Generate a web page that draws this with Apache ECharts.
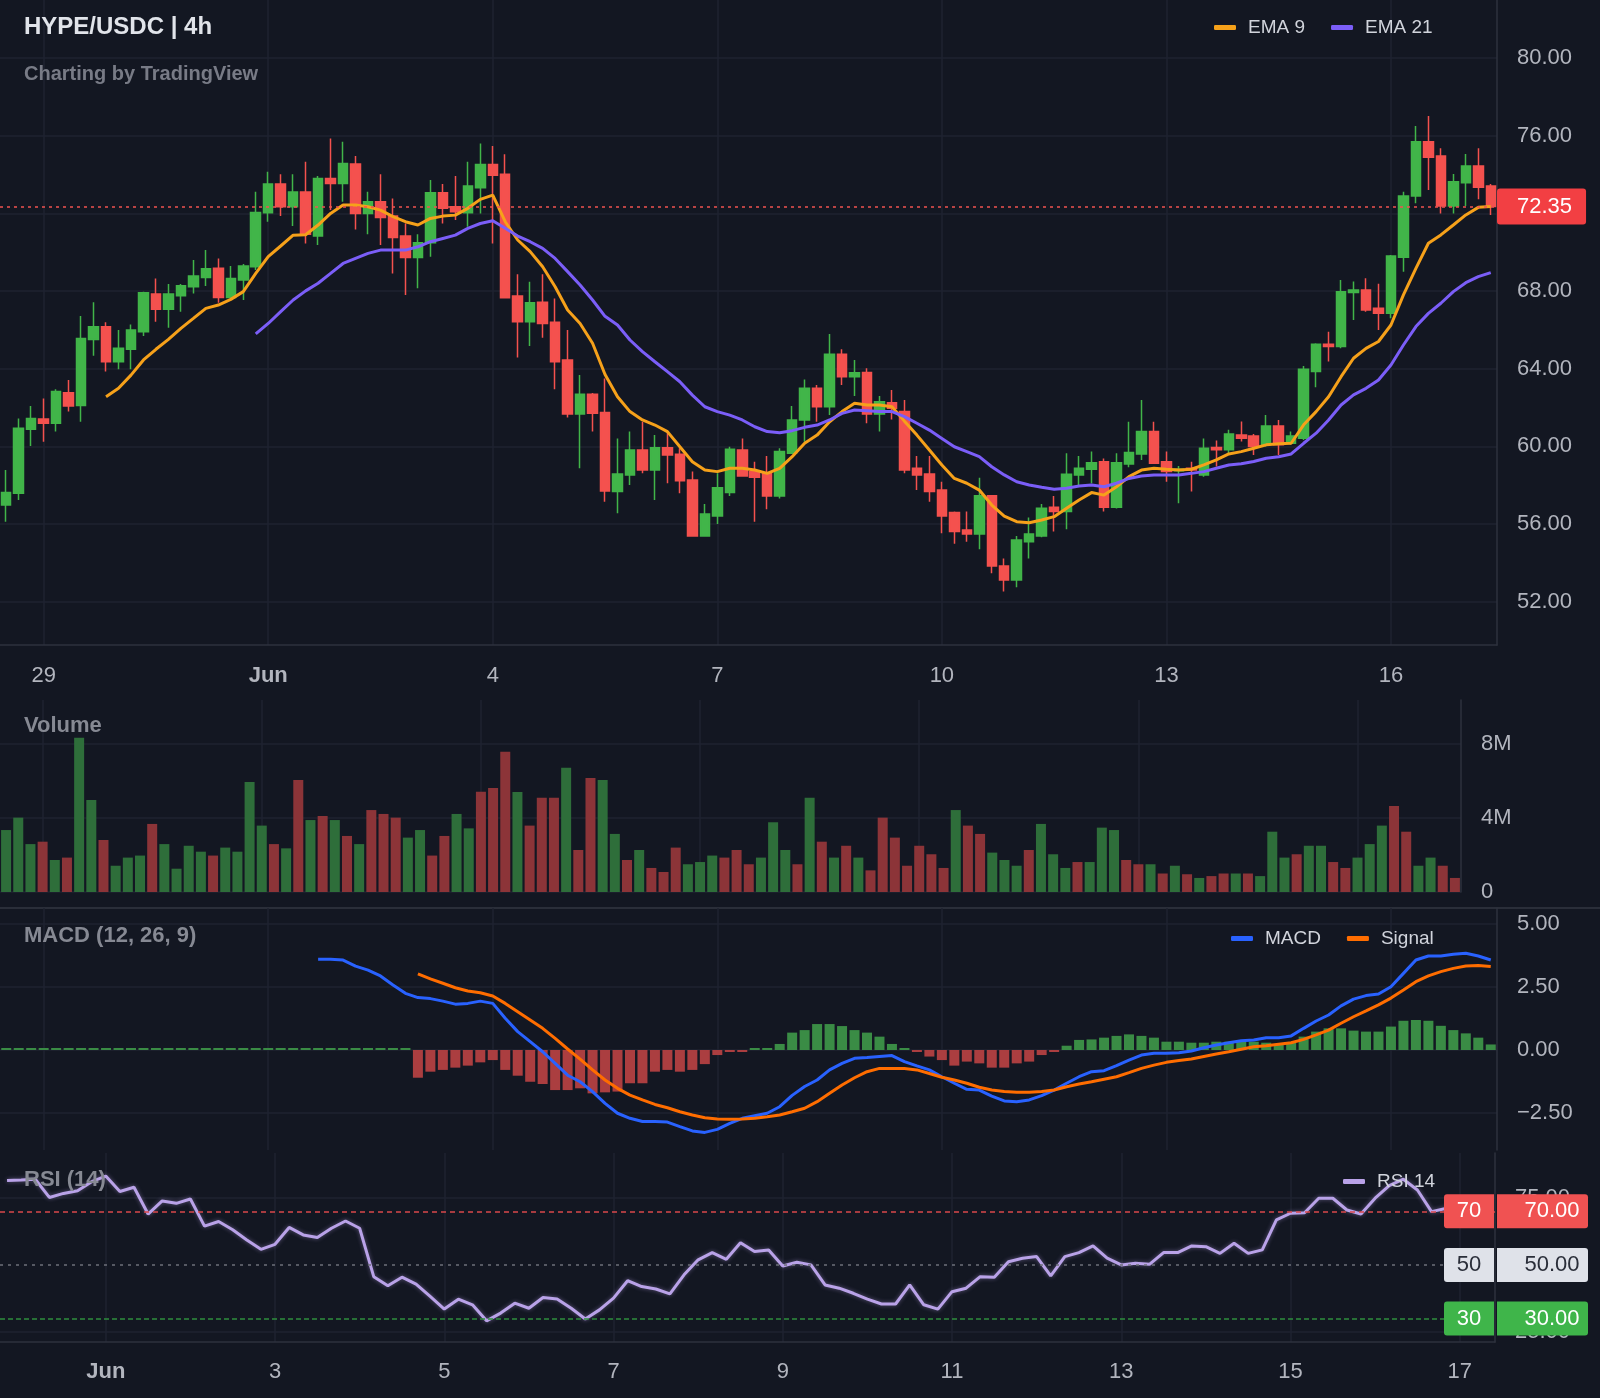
<!DOCTYPE html>
<html>
<head>
<meta charset="utf-8">
<title>HYPE/USDC | 4h</title>
<script src="https://cdn.jsdelivr.net/npm/echarts@6/dist/echarts.min.js"></script>
<style>
  html, body { margin: 0; padding: 0; background: #131722; }
  #main { width: 1600px; height: 1398px; }
</style>
</head>
<body>
<div id="main"></div>
<script>
// 4h candles from 28 May 12:00 to 17 Jun 08:00 (UTC)
const START = Date.UTC(2025, 4, 28, 12);
const STEP = 4 * 3600 * 1000;

const open = [
  56.98, 57.58, 60.88, 61.41, 61.19, 62.76, 62.10, 65.51, 66.16, 64.36,
  65.00, 65.91, 67.85, 67.06, 67.76, 68.22, 68.70, 69.17, 67.67, 68.57,
  69.25, 72.03, 73.51, 72.34, 73.10, 70.83, 73.80, 73.54, 74.54, 72.00,
  72.60, 71.86, 70.83, 69.73, 70.49, 73.06, 72.34, 72.03, 73.32, 74.52,
  74.02, 67.74, 66.42, 67.42, 66.39, 64.45, 61.67, 62.68, 61.75, 57.67,
  58.52, 59.81, 58.78, 59.93, 59.59, 58.27, 55.38, 56.41, 57.62, 59.81,
  58.70, 58.61, 57.44, 59.64, 61.36, 62.99, 62.04, 64.74, 63.59, 63.81,
  61.67, 62.25, 61.79, 58.87, 58.58, 57.75, 56.60, 55.69, 55.49, 57.46,
  53.84, 53.12, 55.09, 55.38, 56.86, 56.64, 58.53, 58.82, 59.21, 56.86,
  59.09, 59.61, 60.76, 59.21, 58.75, 58.87, 58.53, 59.94, 59.82, 60.59,
  60.54, 60.08, 61.05, 60.16, 60.42, 63.85, 65.26, 65.14, 67.92, 68.06,
  67.11, 66.85, 69.74, 72.90, 75.69, 74.96, 72.38, 73.58, 74.44, 73.41
];
const close = [
  57.63, 60.93, 61.44, 61.19, 62.82, 62.08, 65.56, 66.16, 64.36, 65.05,
  65.99, 67.91, 67.06, 67.85, 68.27, 68.77, 69.15, 67.67, 68.65, 69.29,
  72.05, 73.51, 72.34, 73.10, 70.93, 73.80, 73.54, 74.57, 72.00, 72.60,
  71.79, 70.76, 69.73, 70.49, 73.06, 72.26, 72.08, 73.41, 74.52, 73.97,
  67.66, 66.42, 67.40, 66.33, 64.36, 61.67, 62.68, 61.70, 57.70, 58.58,
  59.81, 58.78, 59.93, 59.56, 58.23, 55.38, 56.52, 57.87, 59.85, 58.47,
  58.41, 57.44, 59.73, 61.36, 62.99, 62.04, 64.74, 63.59, 63.79, 61.67,
  62.30, 61.96, 58.78, 58.53, 57.67, 56.41, 55.61, 55.49, 57.46, 53.84,
  53.12, 55.18, 55.49, 56.81, 56.64, 58.56, 58.87, 59.16, 56.86, 59.16,
  59.69, 60.76, 59.13, 58.70, 58.82, 58.78, 59.90, 59.82, 60.64, 60.42,
  59.99, 61.05, 60.08, 60.54, 63.97, 65.26, 65.14, 67.97, 68.06, 67.03,
  66.85, 69.81, 72.90, 75.69, 74.89, 72.38, 73.63, 74.44, 73.34, 72.35
];
const low = [
  56.12, 57.24, 60.02, 60.24, 60.76, 61.79, 61.27, 64.67, 63.85, 63.97,
  63.97, 65.68, 66.42, 66.11, 66.94, 67.88, 68.26, 67.40, 67.54, 67.54,
  69.08, 71.57, 71.86, 71.35, 70.45, 70.37, 72.17, 72.60, 71.17, 70.93,
  70.37, 68.91, 67.79, 68.14, 69.77, 71.48, 71.66, 71.31, 72.00, 70.45,
  67.62, 64.58, 65.17, 65.60, 62.94, 61.49, 58.87, 60.76, 57.15, 56.55,
  58.01, 58.61, 57.24, 58.10, 57.58, 55.38, 55.38, 56.00, 57.44, 58.44,
  56.12, 56.76, 57.32, 59.64, 60.24, 61.27, 61.61, 63.16, 62.59, 61.19,
  60.76, 61.39, 58.61, 57.75, 57.15, 55.52, 54.99, 55.09, 54.70, 53.46,
  52.52, 52.74, 54.23, 55.32, 55.61, 55.73, 58.01, 58.10, 56.64, 56.80,
  58.92, 59.30, 59.10, 58.18, 57.07, 57.67, 58.44, 58.96, 59.65, 60.25,
  59.56, 59.99, 59.56, 60.08, 60.33, 63.04, 64.37, 65.05, 66.51, 66.94,
  66.00, 66.60, 69.00, 72.52, 73.21, 72.00, 72.00, 72.38, 72.73, 71.92
];
const high = [
  58.78, 61.44, 62.08, 62.47, 62.94, 63.42, 66.71, 67.42, 66.39, 65.99,
  66.28, 67.97, 68.65, 68.36, 68.36, 69.60, 70.11, 69.68, 69.29, 69.39,
  73.11, 74.14, 74.02, 74.02, 74.66, 73.92, 75.86, 75.69, 74.95, 73.11,
  74.02, 72.77, 71.48, 70.93, 73.72, 73.51, 73.92, 74.66, 75.60, 75.47,
  75.05, 68.87, 68.48, 68.87, 67.62, 65.99, 63.67, 62.75, 63.50, 60.41,
  60.76, 61.27, 60.58, 60.76, 59.90, 58.70, 57.03, 58.61, 59.98, 60.41,
  59.21, 59.50, 59.90, 62.08, 63.45, 63.16, 65.79, 65.00, 64.45, 64.02,
  62.59, 62.90, 62.39, 59.50, 59.50, 58.18, 56.65, 56.64, 58.39, 57.50,
  54.23, 55.38, 56.34, 57.03, 57.44, 59.64, 59.50, 59.73, 59.38, 59.64,
  61.27, 62.39, 61.27, 59.73, 58.99, 59.21, 60.41, 60.30, 60.85, 61.28,
  60.64, 61.62, 61.36, 60.76, 64.14, 65.31, 65.91, 68.57, 68.49, 68.66,
  68.37, 69.86, 73.12, 76.50, 77.02, 75.35, 74.03, 75.06, 75.35, 73.51
];
// volume in millions
const volume = [
  3.35, 4.02, 2.59, 2.72, 1.73, 1.86, 8.34, 4.97, 2.81, 1.42,
  1.86, 1.97, 3.68, 2.59, 1.26, 2.50, 2.18, 1.97, 2.40, 2.18,
  5.95, 3.59, 2.59, 2.36, 6.05, 3.89, 4.11, 3.89, 3.03, 2.59,
  4.43, 4.22, 4.02, 2.94, 3.35, 1.97, 3.03, 4.22, 3.44, 5.42,
  5.62, 7.58, 5.40, 3.59, 5.10, 5.10, 6.72, 2.27, 6.16, 6.05,
  3.14, 1.73, 2.27, 1.30, 1.08, 2.40, 1.50, 1.62, 1.97, 1.86,
  2.27, 1.50, 1.86, 3.77, 2.27, 1.50, 5.10, 2.72, 1.86, 2.50,
  1.86, 1.17, 4.02, 2.94, 1.42, 2.50, 2.04, 1.30, 4.43, 3.59,
  3.14, 2.13, 1.73, 1.42, 2.27, 3.68, 2.04, 1.30, 1.62, 1.62,
  3.48, 3.35, 1.73, 1.50, 1.50, 1.00, 1.42, 0.96, 0.76, 0.86,
  1.00, 1.00, 1.00, 0.86, 3.26, 1.86, 2.04, 2.50, 2.50, 1.62,
  1.30, 1.86, 2.59, 3.59, 4.65, 3.26, 1.42, 1.86, 1.42, 0.76
];
// EMA 9 from the 9th candle
const ema9 = [
  62.56, 62.99, 63.67, 64.45, 65.00, 65.51, 66.08, 66.59, 67.11, 67.28,
  67.57, 67.97, 68.91, 69.77, 70.32, 70.88, 70.90, 71.40, 72.00, 72.43,
  72.43, 72.34, 72.17, 71.83, 71.57, 71.40, 71.74, 71.86, 71.91, 72.26,
  72.72, 72.94, 71.57, 70.63, 70.03, 69.25, 68.22, 67.02, 66.33, 65.31,
  63.70, 62.56, 61.79, 61.36, 61.10, 60.76, 59.98, 59.21, 58.78, 58.70,
  58.87, 58.87, 58.78, 58.61, 58.87, 59.47, 60.16, 60.58, 61.27, 61.79,
  62.22, 62.13, 62.13, 62.04, 61.30, 60.58, 59.81, 59.04, 58.35, 58.10,
  57.75, 56.98, 56.41, 56.12, 56.07, 56.21, 56.38, 56.81, 57.24, 57.62,
  57.49, 57.92, 58.44, 58.78, 58.87, 58.82, 58.78, 58.82, 59.05, 59.30,
  59.61, 59.73, 59.90, 60.08, 60.13, 60.16, 61.11, 61.79, 62.56, 63.59,
  64.54, 65.05, 65.40, 66.25, 67.80, 69.17, 70.46, 70.89, 71.40, 71.92,
  72.31, 72.35
];
// EMA 21 from the 21st candle
const ema21 = [
  65.79, 66.33, 66.94, 67.54, 68.01, 68.40, 68.91, 69.42, 69.68, 69.94,
  70.11, 70.11, 70.11, 70.28, 70.54, 70.71, 70.88, 71.23, 71.48, 71.62,
  71.23, 70.83, 70.54, 70.20, 69.68, 69.00, 68.31, 67.54, 66.70, 66.25,
  65.48, 64.88, 64.36, 63.85, 63.33, 62.64, 62.04, 61.79, 61.61, 61.36,
  61.01, 60.76, 60.70, 60.81, 60.98, 61.10, 61.36, 61.70, 61.87, 61.84,
  61.79, 61.79, 61.53, 61.19, 60.84, 60.41, 59.98, 59.73, 59.47, 58.95,
  58.53, 58.18, 58.01, 57.89, 57.79, 57.84, 57.96, 58.01, 57.92, 58.10,
  58.35, 58.47, 58.53, 58.53, 58.53, 58.61, 58.70, 58.87, 59.04, 59.10,
  59.22, 59.39, 59.47, 59.61, 60.16, 60.68, 61.36, 62.13, 62.65, 62.99,
  63.42, 64.19, 65.22, 66.17, 66.85, 67.37, 67.97, 68.43, 68.74, 68.95
];
// MACD line from the 26th candle
const macd = [
  3.60, 3.60, 3.57, 3.33, 3.17, 2.94, 2.58, 2.25, 2.08, 2.04,
  1.94, 1.82, 1.85, 1.94, 1.85, 1.26, 0.73, 0.33, -0.07, -0.53,
  -1.00, -1.26, -1.65, -2.12, -2.51, -2.71, -2.84, -2.84, -2.86, -3.04,
  -3.21, -3.27, -3.15, -2.91, -2.71, -2.61, -2.51, -2.25, -1.80, -1.45,
  -1.19, -0.79, -0.53, -0.33, -0.30, -0.26, -0.22, -0.46, -0.63, -0.79,
  -1.06, -1.32, -1.56, -1.59, -1.83, -2.02, -2.05, -1.98, -1.81, -1.59,
  -1.32, -1.06, -0.86, -0.82, -0.62, -0.40, -0.20, -0.13, -0.13, -0.11,
  -0.04, 0.09, 0.20, 0.29, 0.37, 0.40, 0.49, 0.49, 0.56, 0.86,
  1.15, 1.39, 1.75, 2.02, 2.16, 2.22, 2.51, 3.04, 3.57, 3.73,
  3.73, 3.80, 3.84, 3.73, 3.57
];
// signal line from the 34th candle
const signal = [
  3.02, 2.82, 2.65, 2.47, 2.34, 2.27, 2.14, 1.85, 1.52, 1.19,
  0.86, 0.46, 0.04, -0.36, -0.79, -1.19, -1.52, -1.79, -1.98, -2.16,
  -2.29, -2.45, -2.58, -2.69, -2.74, -2.75, -2.74, -2.71, -2.65, -2.58,
  -2.45, -2.31, -2.05, -1.72, -1.39, -1.10, -0.86, -0.73, -0.73, -0.73,
  -0.79, -0.93, -1.08, -1.19, -1.32, -1.48, -1.59, -1.65, -1.68, -1.68,
  -1.65, -1.59, -1.46, -1.35, -1.26, -1.16, -1.06, -0.90, -0.73, -0.60,
  -0.49, -0.42, -0.36, -0.26, -0.16, -0.07, 0.03, 0.13, 0.17, 0.23,
  0.29, 0.42, 0.60, 0.79, 1.06, 1.32, 1.55, 1.79, 2.06, 2.38,
  2.71, 2.94, 3.11, 3.24, 3.33, 3.35, 3.31
];
// histogram, flat at zero before the signal exists
const hist = [
  0, 0, 0, 0, 0, 0, 0, 0, 0, 0,
  0, 0, 0, 0, 0, 0, 0, 0, 0, 0,
  0, 0, 0, 0, 0, 0, 0, 0, 0, 0,
  0, 0, 0,
  -1.10, -0.86, -0.79, -0.70, -0.62, -0.49, -0.40, -0.79, -1.02, -1.26,
  -1.35, -1.59, -1.59, -1.52, -1.72, -1.68, -1.65, -1.32, -1.32, -0.86,
  -0.79, -0.86, -0.79, -0.56, -0.20, -0.07, -0.03, 0.04, 0.07, 0.24,
  0.69, 0.79, 1.03, 1.03, 0.95, 0.79, 0.69, 0.53, 0.24, 0.03,
  -0.07, -0.26, -0.40, -0.62, -0.46, -0.53, -0.70, -0.70, -0.53, -0.46,
  -0.20, -0.07, 0.17, 0.40, 0.42, 0.49, 0.56, 0.62, 0.56, 0.49,
  0.33, 0.33, 0.29, 0.29, 0.33, 0.33, 0.33, 0.33, 0.29, 0.24,
  0.29, 0.53, 0.73, 0.86, 0.86, 0.77, 0.73, 0.73, 0.93, 1.16,
  1.19, 1.16, 0.96, 0.79, 0.66, 0.49, 0.22
];
// RSI 14 from the 15th candle
const RSI_FIRST = 14;
const rsi = [
  81.5, 81.7, 82.0, 75.2, 76.7, 77.7, 81.1, 83.2, 77.4, 79.0,
  69.0, 73.9, 73.0, 74.6, 64.5, 66.2, 63.1, 59.3, 55.8, 57.7,
  64.0, 61.2, 60.2, 63.7, 66.4, 63.7, 45.6, 42.2, 45.4, 42.8,
  38.2, 33.5, 37.2, 35.1, 29.1, 32.0, 35.7, 33.8, 37.8, 37.3,
  33.8, 29.8, 33.2, 37.6, 44.1, 41.9, 41.0, 39.2, 46.3, 51.9,
  54.6, 52.1, 58.3, 55.0, 55.6, 49.6, 51.0, 50.0, 42.5, 41.3,
  39.4, 37.2, 35.4, 35.4, 42.5, 35.1, 33.5, 40.0, 41.3, 45.6,
  45.4, 51.2, 52.5, 53.1, 45.9, 53.1, 54.6, 57.1, 52.5, 50.0,
  50.6, 50.2, 54.6, 54.6, 57.1, 56.8, 54.3, 58.1, 54.3, 55.6,
  66.8, 69.3, 69.5, 74.9, 74.9, 70.5, 69.0, 74.9, 79.6, 82.0,
  78.0, 69.9, 71.1, 73.0, 70.5, 68.5
];

const priceTicks = [52, 56, 60, 64, 68, 72, 76, 80];
const volumeTicks = [0, 4, 8];
const macdTicks = [-2.5, 0, 2.5, 5];
const rsiTicks = [25, 75];
const rsiLevels = [70, 50, 30];

const FONT = '"Liberation Sans", Arial, sans-serif';
const BG = '#131722';
const GRID_LINE = '#1f2330';
const AXIS_LINE = '#2e323e';
const LABEL = '#b2b5be';
const UP = '#41b549', DOWN = '#f4514e';
const VOL_UP = '#2e6e3a', VOL_DOWN = '#8c3438';
const HIST_UP = '#3a8c45', HIST_DOWN = '#ab3e40';
const MONTHS = ['Jan', 'Feb', 'Mar', 'Apr', 'May', 'Jun', 'Jul', 'Aug', 'Sep', 'Oct', 'Nov', 'Dec'];

const cats = open.map((_, i) => new Date(START + i * STEP).toISOString().slice(0, 16).replace('T', ' '));
const rsiCats = cats.slice(RSI_FIRST);
const lead = n => new Array(n).fill(null);

function dateLabel(cat) {
  const day = Number(cat.slice(8, 10));
  return day === 1 ? '{m|' + MONTHS[Number(cat.slice(5, 7)) - 1] + '}' : String(day);
}
// main panels: a date every 3 days starting 29 May; RSI panel: every 2 days from 1 Jun
const every3 = i => i >= 3 && (i - 3) % 18 === 0;
const every2 = j => j >= 7 && (j - 7) % 12 === 0;

function catAxis(grid, data, pick, showLabels, margin) {
  return {
    type: 'category', gridIndex: grid, data: data, boundaryGap: true,
    axisLine: { show: showLabels, lineStyle: { color: AXIS_LINE, width: 1.5 } },
    axisTick: { show: false },
    axisLabel: {
      show: showLabels, interval: pick, formatter: dateLabel, margin: margin,
      color: LABEL, fontSize: 22, fontFamily: FONT,
      rich: { m: { fontWeight: 'bold', color: LABEL, fontSize: 22, fontFamily: FONT } }
    },
    splitLine: { show: true, interval: pick, alignWithLabel: true, lineStyle: { color: GRID_LINE, width: 1.5 } }
  };
}
function valAxis(grid, min, max, ticks, fmt) {
  return {
    type: 'value', gridIndex: grid, position: 'right', min: min, max: max,
    axisLine: { show: true, lineStyle: { color: AXIS_LINE, width: 1.5 } },
    axisTick: { show: false, customValues: ticks },
    axisLabel: { customValues: ticks, formatter: fmt, color: LABEL, fontSize: 22, margin: 20, fontFamily: FONT },
    splitLine: { show: true, lineStyle: { color: GRID_LINE, width: 1.5 } }
  };
}
const fix2 = v => (v < 0 ? '\u2212' : '') + Math.abs(v).toFixed(2);

const levelStyle = {
  70: { line: '#d9484b', box: '#f05252', text: '#ffffff', dash: [5, 4] },
  50: { line: '#6d707a', box: '#dfe2e9', text: '#2a2e39', dash: [3, 5] },
  30: { line: '#2f8f3e', box: '#3fb54a', text: '#ffffff', dash: [5, 3] }
};

const legendBase = {
  icon: 'roundRect', itemWidth: 22, itemHeight: 5, itemGap: 26, padding: 0,
  selectedMode: false,
  textStyle: { color: '#d1d4dc', fontSize: 19, fontFamily: FONT, padding: [0, 0, 0, 7] }
};
const titleStyle = (size, color) => ({ color: color, fontSize: size, fontWeight: 'bold', fontFamily: FONT });
const last = close[close.length - 1];

const option = {
  backgroundColor: BG,
  animation: false,
  textStyle: { fontFamily: FONT },
  title: [
    { text: 'HYPE/USDC | 4h', left: 24, top: 15, padding: 0, textStyle: titleStyle(24, '#e1e4ea') },
    { text: 'Charting by TradingView', left: 24, top: 64, padding: 0, textStyle: titleStyle(20, '#787b86') },
    { text: 'Volume', left: 24, top: 715, padding: 0, textStyle: titleStyle(22, '#868993') },
    { text: 'MACD (12, 26, 9)', left: 24, top: 925, padding: 0, textStyle: titleStyle(22, '#868993') },
    { text: 'RSI (14)', left: 24, top: 1169, padding: 0, textStyle: titleStyle(22, '#868993') }
  ],
  legend: [
    Object.assign({ data: ['EMA 9', 'EMA 21'], left: 1214, top: 18 }, legendBase),
    Object.assign({ data: ['MACD', 'Signal'], left: 1231, top: 929 }, legendBase),
    Object.assign({ data: ['RSI 14'], left: 1343, top: 1172 }, legendBase)
  ],
  graphic: [
    { type: 'line', shape: { x1: 0, y1: 908, x2: 1600, y2: 908 }, style: { stroke: '#2a2e39', lineWidth: 2 }, silent: true }
  ],
  grid: [
    { left: 0, top: 0, width: 1497, height: 645 },
    { left: 0, top: 700, width: 1461, height: 192 },
    { left: 0, top: 908, width: 1497, height: 242 },
    { left: 0, top: 1153, width: 1495, height: 189 }
  ],
  xAxis: [
    catAxis(0, cats, every3, true, 20),
    catAxis(1, cats, every3, false, 20),
    catAxis(2, cats, every3, false, 20),
    catAxis(3, rsiCats, every2, true, 19)
  ],
  yAxis: [
    valAxis(0, 49.77, 82.99, priceTicks, v => v.toFixed(2)),
    valAxis(1, 0, 10.38, volumeTicks, v => (v === 0 ? '0' : v + 'M')),
    valAxis(2, -3.968, 5.635, macdTicks, fix2),
    valAxis(3, 21.2, 91.8, rsiTicks, v => v.toFixed(2))
  ],
  series: [
    {
      name: 'HYPE/USDC', type: 'candlestick', xAxisIndex: 0, yAxisIndex: 0, barWidth: 10,
      data: open.map((o, i) => [o, close[i], low[i], high[i]]),
      itemStyle: { color: UP, color0: DOWN, borderColor: UP, borderColor0: DOWN, borderWidth: 1.5 }
    },
    {
      name: 'EMA 9', type: 'line', xAxisIndex: 0, yAxisIndex: 0, data: lead(8).concat(ema9),
      symbol: 'none', color: '#f6a11a', lineStyle: { color: '#f6a11a', width: 3 }, clip: false, z: 3,
      markLine: {
        symbol: 'none', silent: true, animation: false,
        data: [{ yAxis: last }],
        lineStyle: { color: '#f05350', type: [3, 4], width: 1.5 },
        label: {
          position: 'end', distance: 0, formatter: last.toFixed(2),
          backgroundColor: '#f23f43', color: '#ffffff', fontSize: 22, fontFamily: FONT,
          padding: [7, 14, 7, 20], borderRadius: 3
        }
      }
    },
    {
      name: 'EMA 21', type: 'line', xAxisIndex: 0, yAxisIndex: 0, data: lead(20).concat(ema21),
      symbol: 'none', color: '#7b5ef8', lineStyle: { color: '#7b5ef8', width: 3 }, z: 3
    },
    {
      name: 'Volume', type: 'bar', xAxisIndex: 1, yAxisIndex: 1, barWidth: 10,
      data: volume.map((v, i) => ({ value: v, itemStyle: { color: close[i] >= open[i] ? VOL_UP : VOL_DOWN } }))
    },
    {
      name: 'Histogram', type: 'bar', xAxisIndex: 2, yAxisIndex: 2, barWidth: 10, barMinHeight: 2,
      data: hist, itemStyle: { color: p => (p.value >= 0 ? HIST_UP : HIST_DOWN) }
    },
    {
      name: 'MACD', type: 'line', xAxisIndex: 2, yAxisIndex: 2, data: lead(25).concat(macd),
      symbol: 'none', color: '#2962ff', lineStyle: { color: '#2962ff', width: 3 }, z: 3
    },
    {
      name: 'Signal', type: 'line', xAxisIndex: 2, yAxisIndex: 2, data: lead(33).concat(signal),
      symbol: 'none', color: '#ff6d00', lineStyle: { color: '#ff6d00', width: 3 }, z: 3
    },
    {
      name: 'RSI 14', type: 'line', xAxisIndex: 3, yAxisIndex: 3, data: rsi,
      symbol: 'none', color: '#b9a2e8', clip: false,
      lineStyle: { color: '#b9a2e8', width: 3, shadowColor: 'rgba(185,162,232,0.45)', shadowBlur: 4 },
      markLine: {
        symbol: 'none', silent: true, animation: false,
        data: rsiLevels.map(lv => {
          const s = levelStyle[lv];
          return {
            yAxis: lv,
            lineStyle: { color: s.line, type: s.dash, width: 1.5 },
            label: {
              position: 'end', distance: -51,
              formatter: '{a|' + lv + '}{g|}{b|' + lv.toFixed(2) + '}',
              rich: {
                a: { width: 50, height: 34, align: 'center', backgroundColor: s.box, color: s.text,
                     fontSize: 22, fontFamily: FONT, borderRadius: [3, 0, 0, 3] },
                g: { width: 3, height: 34 },
                b: { width: 72, height: 34, align: 'left', padding: [0, 0, 0, 19], backgroundColor: s.box,
                     color: s.text, fontSize: 22, fontFamily: FONT, borderRadius: [0, 3, 3, 0] }
              }
            }
          };
        })
      }
    }
  ]
};

const chart = echarts.init(document.getElementById('main'));
chart.setOption(option);
</script>
</body>
</html>
